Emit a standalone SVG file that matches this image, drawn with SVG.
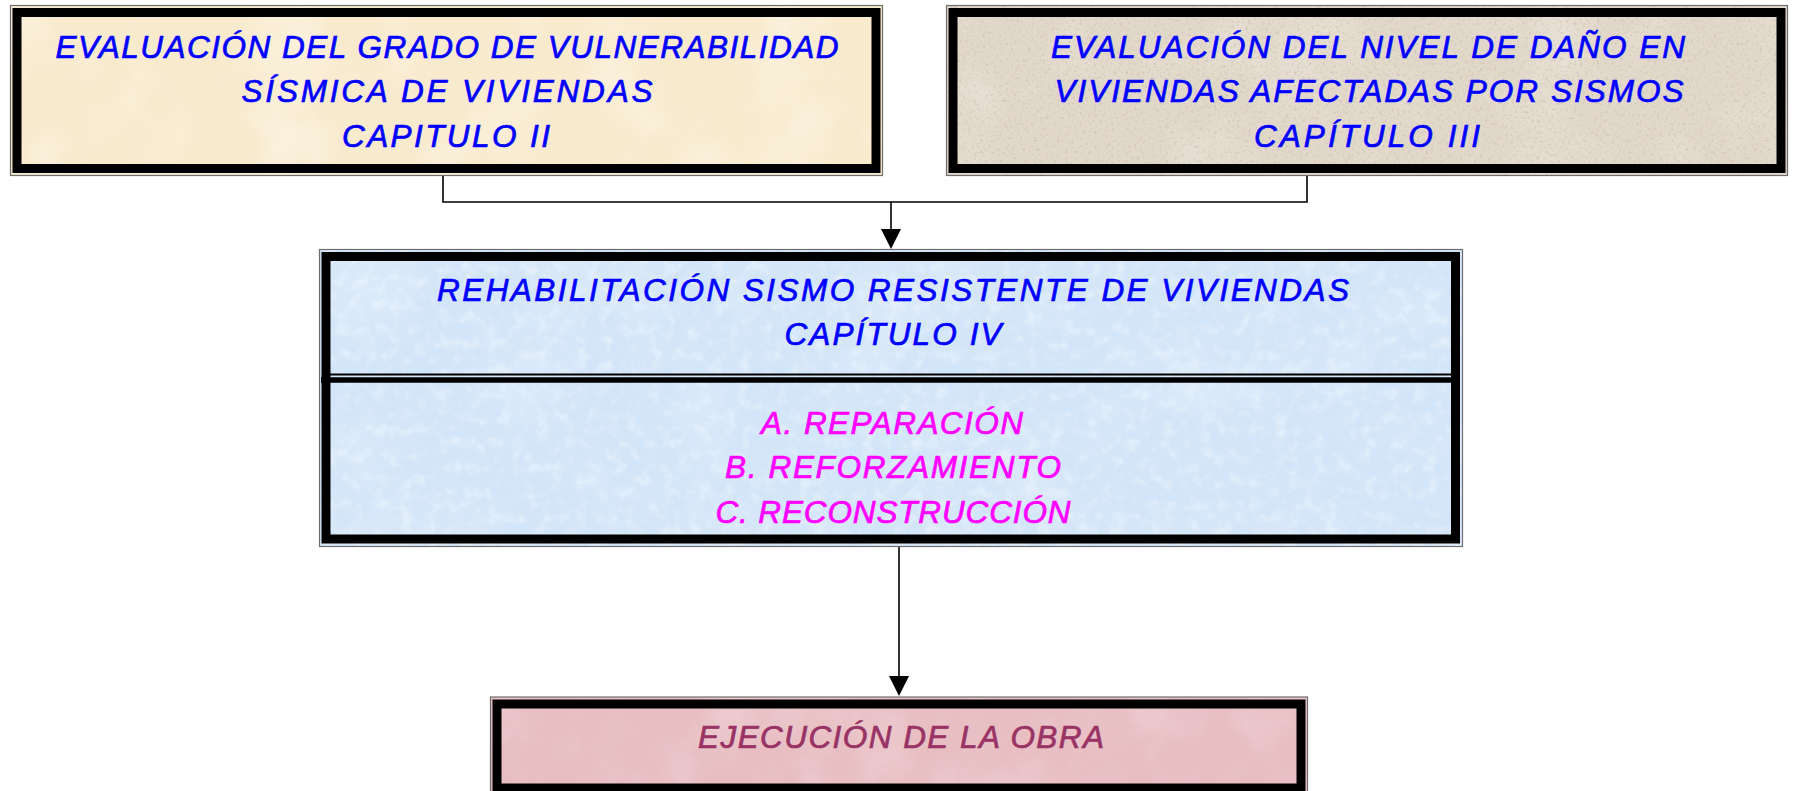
<svg xmlns="http://www.w3.org/2000/svg" width="1794" height="791" viewBox="0 0 1794 791">
<defs>
<style>
.t{font-family:"Liberation Sans",Arial,sans-serif;font-style:italic;font-size:31.5px;text-anchor:middle;stroke-width:0.7px}
.blue{fill:#0000FF;stroke:#0000FF}
.mag{fill:#FF00FF;stroke:#FF00FF}
.plum{fill:#993366;stroke:#993366}
.outer{fill:none;stroke:#6E6E6E;stroke-width:1.2}
.thick{fill:none;stroke:#000;stroke-width:9}
.conn{fill:none;stroke:#000;stroke-width:1.6}
.head{fill:#000}
</style>
<filter id="blotch" x="0" y="0" width="1" height="1">
<feTurbulence type="fractalNoise" baseFrequency="0.012" numOctaves="4" seed="4" result="n"/>
<feColorMatrix in="n" type="matrix" values="0 0 0 0 1  0 0 0 0 1  0 0 0 0 1  1.6 0 0 0 -0.75" result="c"/>
<feComposite in="c" in2="SourceGraphic" operator="in"/>
</filter>
<filter id="speck" x="0" y="0" width="1" height="1">
<feTurbulence type="fractalNoise" baseFrequency="0.35" numOctaves="2" seed="7" result="n"/>
<feColorMatrix in="n" type="matrix" values="0 0 0 0 0.62  0 0 0 0 0.55  0 0 0 0 0.47  3.2 0 0 0 -1.75" result="c"/>
<feComposite in="c" in2="SourceGraphic" operator="in"/>
</filter>
<filter id="fine" x="0" y="0" width="1" height="1">
<feTurbulence type="fractalNoise" baseFrequency="0.08" numOctaves="3" seed="11" result="n"/>
<feColorMatrix in="n" type="matrix" values="0 0 0 0 1  0 0 0 0 1  0 0 0 0 1  1.8 0 0 0 -0.85" result="c"/>
<feComposite in="c" in2="SourceGraphic" operator="in"/>
</filter>
<filter id="dark" x="0" y="0" width="1" height="1">
<feTurbulence type="fractalNoise" baseFrequency="0.03" numOctaves="4" seed="9" result="n"/>
<feColorMatrix in="n" type="matrix" values="0 0 0 0 0.82  0 0 0 0 0.6  0 0 0 0 0.64  1.6 0 0 0 -0.7" result="c"/>
<feComposite in="c" in2="SourceGraphic" operator="in"/>
</filter>
</defs>
<rect x="0" y="0" width="1794" height="791" fill="#FFFFFF"/>

<g id="connectors">
<polyline class="conn" points="443,176 443,202 1307,202 1307,176"/>
<line class="conn" x1="891" y1="202" x2="891" y2="231"/>
<polygon class="head" points="881,229 901,229 891,249"/>
<line class="conn" x1="899" y1="547" x2="899" y2="678"/>
<polygon class="head" points="889,676 909,676 899,696"/>
</g>

<g id="node-vulnerabilidad">
<rect x="10.5" y="5.5" width="872" height="170" fill="#F8EACD"/>
<rect x="10.5" y="5.5" width="872" height="170" fill="#fff" filter="url(#blotch)" opacity="0.55"/>
<rect class="outer" x="10.5" y="5.5" width="872" height="170"/>
<rect class="thick" x="17" y="12.5" width="859" height="156"/>
<text class="t blue" x="447" y="58" textLength="783" lengthAdjust="spacing">EVALUACIÓN DEL GRADO DE VULNERABILIDAD</text>
<text class="t blue" x="447" y="102" textLength="411" lengthAdjust="spacing">SÍSMICA DE VIVIENDAS</text>
<text class="t blue" x="446" y="146.5" textLength="208" lengthAdjust="spacing">CAPITULO II</text>
</g>

<g id="node-dano">
<rect x="946.5" y="5.5" width="841" height="170" fill="#E2D8CA"/>
<rect x="946.5" y="5.5" width="841" height="170" fill="#fff" filter="url(#blotch)" opacity="0.35"/>
<rect x="946.5" y="5.5" width="841" height="170" fill="#fff" filter="url(#speck)"/>
<rect class="outer" x="946.5" y="5.5" width="841" height="170"/>
<rect class="thick" x="953" y="12.5" width="828" height="156"/>
<text class="t blue" x="1368" y="58" textLength="634" lengthAdjust="spacing">EVALUACIÓN DEL NIVEL DE DAÑO EN</text>
<text class="t blue" x="1369" y="102" textLength="629" lengthAdjust="spacing">VIVIENDAS AFECTADAS POR SISMOS</text>
<text class="t blue" x="1367" y="146.5" textLength="226" lengthAdjust="spacing">CAPÍTULO III</text>
</g>

<g id="node-rehabilitacion">
<rect x="319.5" y="249.5" width="1143" height="297" fill="#D3E5F8"/>
<rect x="319.5" y="249.5" width="1143" height="297" fill="#fff" filter="url(#fine)" opacity="0.5"/>
<rect x="319.5" y="249.5" width="1143" height="297" fill="#fff" filter="url(#blotch)" opacity="0.3"/>
<rect class="outer" x="319.5" y="249.5" width="1143" height="297"/>
<rect class="thick" x="326" y="256.5" width="1129.5" height="282.5"/>
<line x1="330" y1="374.5" x2="1451" y2="374.5" stroke="#000" stroke-width="2"/>
<line x1="321" y1="380" x2="1459" y2="380" stroke="#000" stroke-width="5.5"/>
<text class="t blue" x="893" y="300.5" textLength="912" lengthAdjust="spacing">REHABILITACIÓN SISMO RESISTENTE DE VIVIENDAS</text>
<text class="t blue" x="893" y="345" textLength="217" lengthAdjust="spacing">CAPÍTULO IV</text>
<text class="t mag" x="892" y="434" textLength="262" lengthAdjust="spacing">A. REPARACIÓN</text>
<text class="t mag" x="893" y="478" textLength="336" lengthAdjust="spacing">B. REFORZAMIENTO</text>
<text class="t mag" x="893" y="523" textLength="355" lengthAdjust="spacing">C. RECONSTRUCCIÓN</text>
</g>

<g id="node-ejecucion">
<rect x="490.5" y="697" width="817" height="98" fill="#E8BEC2"/>
<rect x="490.5" y="697" width="817" height="98" fill="#fff" filter="url(#dark)" opacity="0.45"/>
<rect x="490.5" y="697" width="817" height="98" fill="#fff" filter="url(#blotch)" opacity="0.3"/>
<rect class="outer" x="490.5" y="697" width="817" height="98"/>
<rect class="thick" x="497" y="704" width="804" height="84"/>
<text class="t plum" x="901" y="747.5" textLength="406" lengthAdjust="spacing">EJECUCIÓN DE LA OBRA</text>
</g>
</svg>
